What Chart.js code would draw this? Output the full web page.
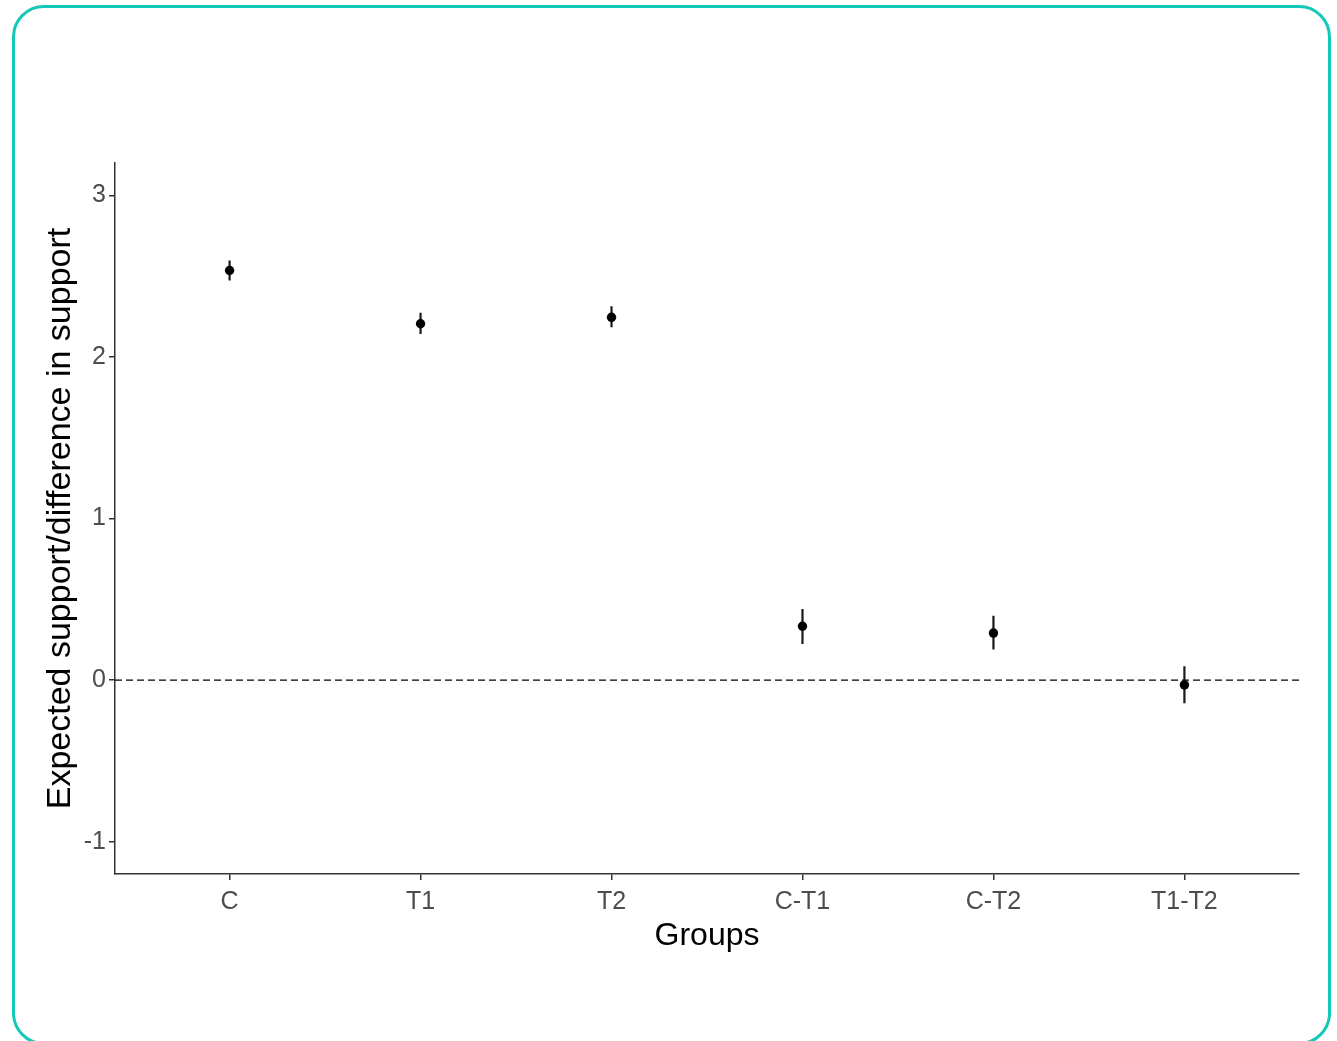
<!DOCTYPE html>
<html>
<head>
<meta charset="utf-8">
<title>Expected support by group</title>
<script src="https://cdn.jsdelivr.net/npm/chart.js@4.4.1/dist/chart.umd.min.js"></script>
<style>
    body { margin: 0; background: #fff; }
    #frame {
        position: absolute; left: 12px; top: 5px;
        width: 1313px; height: 1034px;
        border: 3px solid #14c8b8; border-radius: 32px;
    }
    #chart { position: absolute; left: 0; top: 0; }
</style>
</head>
<body>
<div id="frame"></div>
<canvas id="chart" width="1337" height="1041"></canvas>
<script>
// --- data ---
const groups = ['C', 'T1', 'T2', 'C-T1', 'C-T2', 'T1-T2'];
const estimates = [2.535, 2.205, 2.245, 0.333, 0.291, -0.03];
const lower = [2.473, 2.141, 2.184, 0.223, 0.19, -0.144];
const upper = [2.597, 2.273, 2.314, 0.44, 0.398, 0.085];
const yTicks = [-1, 0, 1, 2, 3];
const xRange = [-0.6, 5.6];
const yRange = [-1.2, 3.2];

document.addEventListener('DOMContentLoaded', function() {
    Chart.defaults.font.family = "'Liberation Sans', Arial, sans-serif";

    const points = groups.map((g, i) => ({ x: i, y: estimates[i] }));

    // vertical error bars, one segment per group separated by gaps
    const errorSegments = [];
    groups.forEach((g, i) => {
        errorSegments.push({ x: i, y: lower[i] }, { x: i, y: upper[i] }, { x: i, y: null });
    });

    const zeroLine = [{ x: xRange[0], y: 0 }, { x: xRange[1], y: 0 }];

    const ctx = document.getElementById('chart').getContext('2d');
    new Chart(ctx, {
        type: 'scatter',
        data: {
            datasets: [
                {
                    data: points,
                    backgroundColor: '#000',
                    borderColor: '#000',
                    borderWidth: 0,
                    pointRadius: 4.7,
                    pointHoverRadius: 4.7
                },
                {
                    type: 'line',
                    data: errorSegments,
                    borderColor: '#1a1a1a',
                    borderWidth: 2.2,
                    pointRadius: 0,
                    spanGaps: false
                },
                {
                    type: 'line',
                    data: zeroLine,
                    borderColor: '#000',
                    borderWidth: 1.4,
                    borderDash: [7, 4],
                    pointRadius: 0
                }
            ]
        },
        options: {
            responsive: false,
            animation: false,
            layout: { padding: { left: 0, top: 163, right: 38, bottom: 0 } },
            plugins: {
                legend: { display: false },
                tooltip: { enabled: false }
            },
            scales: {
                x: {
                    type: 'linear',
                    min: xRange[0],
                    max: xRange[1],
                    afterBuildTicks: s => { s.ticks = groups.map((g, i) => ({ value: i })); },
                    afterFit: s => { s.height = 167; },
                    ticks: {
                        callback: v => groups[v],
                        color: '#4d4d4d',
                        font: { size: 25 },
                        padding: 7,
                        autoSkip: false,
                        maxRotation: 0
                    },
                    grid: { drawOnChartArea: false, tickLength: 6, color: '#333', lineWidth: 1.5 },
                    border: { color: '#333', width: 1.5 },
                    title: {
                        display: true,
                        text: 'Groups',
                        color: '#000',
                        font: { size: 32 },
                        padding: { top: 0, bottom: 86 }
                    }
                },
                y: {
                    min: yRange[0],
                    max: yRange[1],
                    afterBuildTicks: s => { s.ticks = yTicks.map(v => ({ value: v })); },
                    afterFit: s => { s.width = 115; },
                    ticks: {
                        callback: v => String(v),
                        color: '#4d4d4d',
                        font: { size: 25 },
                        padding: 3
                    },
                    grid: { drawOnChartArea: false, tickLength: 6, color: '#333', lineWidth: 1.5 },
                    border: { color: '#333', width: 1.5 },
                    title: {
                        display: true,
                        text: 'Expected support/difference in support',
                        color: '#000',
                        font: { size: 34 },
                        padding: { top: 40, bottom: 0 }
                    }
                }
            }
        }
    });
});
</script>
</body>
</html>
